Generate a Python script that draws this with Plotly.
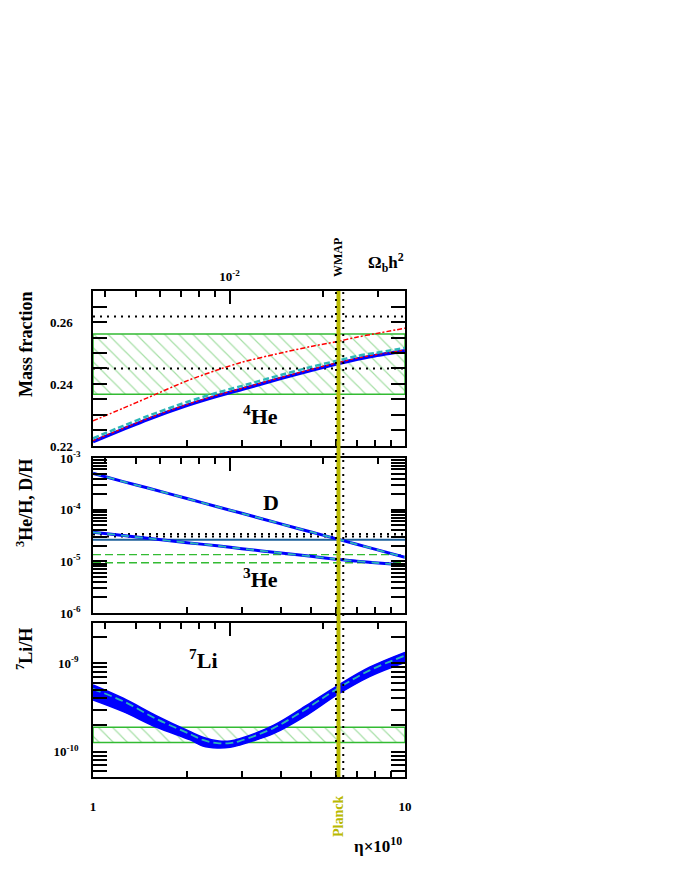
import math
import plotly.graph_objects as go

# ---------------- data ----------------
eta = [1, 1.25, 1.5, 2, 2.5, 3, 4, 5, 6, 7, 8, 10]

# 4He mass fraction
yp_blue = [0.2214, 0.2254, 0.2286, 0.2331, 0.2361, 0.2383, 0.2418, 0.2444, 0.2464, 0.2480, 0.2491, 0.2507]
yp_red_low = [0.2217, 0.2257, 0.2289, 0.2334, 0.2364, 0.2386, 0.2421, 0.2447, 0.2467, 0.2483, 0.2494, 0.2510]
yp_cyan = [0.2225, 0.2265, 0.2297, 0.2342, 0.2372, 0.2394, 0.2429, 0.2455, 0.2474, 0.2490, 0.2500, 0.2516]
yp_red_high = [0.2281, 0.2322, 0.2356, 0.2410, 0.2445, 0.2470, 0.2500, 0.2521, 0.2536, 0.2551, 0.2562, 0.2580]
yp_obs_band = [0.2367, 0.2561]
yp_dotted = [0.2450, 0.2618]

# D/H and 3He/H
dh = [5.05e-4, 3.49e-4, 2.62e-4, 1.64e-4, 1.14e-4, 8.5e-5, 5.3e-5, 3.7e-5, 2.75e-5, 2.14e-5, 1.72e-5, 1.20e-5]
he3h = [3.65e-5, 3.15e-5, 2.79e-5, 2.30e-5, 2.0e-5, 1.76e-5, 1.45e-5, 1.25e-5, 1.10e-5, 1.01e-5, 9.4e-6, 8.5e-6]
dh_dotted = [3.38e-5, 3.03e-5]
dh_solid = [2.62e-5]
he3_dashed = [1.35e-5, 9.4e-6]

# 7Li/H
eta_li = [1, 1.25, 1.6, 2.05, 2.25, 2.5, 2.75, 2.95, 3.8, 4.85, 6.05, 7.7, 10]
li_hi = [5.69e-10, 4.02e-10, 2.54e-10, 1.68e-10, 1.46e-10, 1.33e-10, 1.32e-10, 1.40e-10,
         2.00e-10, 3.37e-10, 5.53e-10, 9.02e-10, 1.33e-9]
li_lo = [3.85e-10, 2.84e-10, 1.89e-10, 1.36e-10, 1.16e-10, 1.10e-10, 1.12e-10, 1.19e-10,
         1.61e-10, 2.60e-10, 4.39e-10, 7.06e-10, 1.02e-9]
li_cyan = [5.13e-10, 3.72e-10, 2.34e-10, 1.58e-10, 1.36e-10, 1.25e-10, 1.25e-10, 1.32e-10,
           1.86e-10, 3.09e-10, 5.13e-10, 8.32e-10, 1.22e-9]
li_obs_band = [1.27e-10, 1.89e-10]

# CMB determinations of eta
planck_band = [6.03, 6.21]
wmap_lines = [6.01, 6.34]

# axis ticks
eta_major = [1, 10]
eta_major_text = ["1", "10"]
eta_minor = [2, 3, 4, 5, 6, 7, 8, 9]
ETA_PER_OMEGA = 273.9
omega_major = [0.01]
omega_major_text = ["10<sup>-2</sup>"]
omega_minor = [0.004, 0.005, 0.006, 0.007, 0.008, 0.009, 0.02, 0.03]
yp_major = [0.22, 0.24, 0.26]
yp_major_text = ["0.22", "0.24", "0.26"]
yp_minor = [0.225, 0.23, 0.235, 0.245, 0.25, 0.255, 0.265]
mid_major = [1e-6, 1e-5, 1e-4, 1e-3]
mid_major_text = ["10<sup>-6</sup>", "10<sup>-5</sup>", "10<sup>-4</sup>", "10<sup>-3</sup>"]
li_major = [1e-10, 1e-9]
li_major_text = ["10<sup>-10</sup>", "10<sup>-9</sup>"]

# ---------------- style ----------------
FONT = "Liberation Serif"
BLUE = "#0000ff"
CYAN = "#2cb5b8"
RED = "#ff0000"
GREEN = "#33bb33"
HATCH = "#4fbf4f"
OLIVE = "#b9b900"
STEEL = "#1d5f9a"
DOTS = "2px,5px"

fig = go.Figure()


def band(xs, lo, hi, xa, ya):
    fig.add_trace(go.Scatter(
        x=[xs[0], xs[-1], xs[-1], xs[0], xs[0]], y=[lo, lo, hi, hi, lo],
        xaxis=xa, yaxis=ya, mode="lines", fill="toself",
        fillcolor="rgba(0,0,0,0)",
        fillpattern=dict(shape="\\", fgcolor=HATCH, bgcolor="rgba(0,0,0,0)",
                         size=10, solidity=0.12, fillmode="overlay"),
        line=dict(color=GREEN, width=1.5), hoverinfo="skip", showlegend=False))


def hline(xs, yv, xa, ya, color, dash, width):
    fig.add_trace(go.Scatter(x=[xs[0], xs[-1]], y=[yv, yv], xaxis=xa, yaxis=ya,
                             mode="lines", line=dict(color=color, dash=dash, width=width),
                             hoverinfo="skip", showlegend=False))


def curve(xs, ys, xa, ya, color, width, dash="solid"):
    fig.add_trace(go.Scatter(x=xs, y=ys, xaxis=xa, yaxis=ya, mode="lines",
                             line=dict(color=color, width=width, dash=dash, shape="spline", smoothing=0.8),
                             hoverinfo="skip", showlegend=False))


# ---- top panel: 4He ----
band(eta, yp_obs_band[0], yp_obs_band[1], "x", "y")
for v in yp_dotted:
    hline(eta, v, "x", "y", "black", DOTS, 2)
curve(eta, yp_red_high, "x", "y", RED, 1.5, "5px,2px,2px,2px")
curve(eta, yp_blue, "x", "y", BLUE, 3.5)
curve(eta, yp_red_low, "x", "y", RED, 1.2, "3px,2px")
curve(eta, yp_cyan, "x", "y", CYAN, 2.5, "6px,3px")

# ---- middle panel: D and 3He ----
for v in dh_dotted:
    hline(eta, v, "x2", "y2", "black", DOTS, 2)
hline(eta, dh_solid[0], "x2", "y2", STEEL, "solid", 1.8)
for v in he3_dashed:
    hline(eta, v, "x2", "y2", GREEN, "8px,4px", 1.3)
curve(eta, dh, "x2", "y2", BLUE, 3)
curve(eta, dh, "x2", "y2", CYAN, 1.8, "8px,6px")
curve(eta, he3h, "x2", "y2", BLUE, 3)
curve(eta, he3h, "x2", "y2", CYAN, 1.8, "8px,6px")

# ---- bottom panel: 7Li ----
band(eta_li, li_obs_band[0], li_obs_band[1], "x3", "y3")
fig.add_trace(go.Scatter(x=eta_li, y=li_lo, xaxis="x3", yaxis="y3", mode="lines",
                         line=dict(color=BLUE, width=1.5, shape="spline", smoothing=1.0),
                         hoverinfo="skip", showlegend=False))
fig.add_trace(go.Scatter(x=eta_li, y=li_hi, xaxis="x3", yaxis="y3", mode="lines",
                         fill="tonexty", fillcolor=BLUE,
                         line=dict(color=BLUE, width=1.5, shape="spline", smoothing=1.0),
                         hoverinfo="skip", showlegend=False))
fig.add_trace(go.Scatter(x=eta_li, y=li_cyan, xaxis="x3", yaxis="y3", mode="lines",
                         line=dict(color=CYAN, width=1.8, dash="8px,4px", shape="spline", smoothing=1.0),
                         hoverinfo="skip", showlegend=False))

# invisible traces that carry the Omega_b h^2 top axes
for xa, ya, yv in (("x4", "y", yp_blue[0]), ("x5", "y2", dh[0]), ("x6", "y3", li_hi[0])):
    fig.add_trace(go.Scatter(x=[eta[0] / ETA_PER_OMEGA], y=[yv], xaxis=xa, yaxis=ya,
                             mode="markers", marker=dict(opacity=0), hoverinfo="skip",
                             showlegend=False))

# ---------------- axes ----------------
tickfont = dict(family=FONT, size=13, color="black", weight="bold")
D_TOP = [0.6811, 1.0]
D_MID = [0.3374, 0.6564]
D_BOT = [0.0, 0.3169]


def eta_axis(anchor, labels):
    return dict(type="log", range=[math.log10(eta[0]), math.log10(eta[-1])], domain=[0, 1],
                anchor=anchor, showline=True, linecolor="black", linewidth=1.5, mirror=True,
                ticks="inside", tickmode="array", tickvals=eta_major, ticktext=eta_major_text,
                ticklen=12, tickwidth=1.5, tickcolor="black",
                minor=dict(ticks="inside", tickmode="array", tickvals=eta_minor, ticklen=6,
                           tickwidth=1.5, tickcolor="black", showgrid=False),
                showgrid=False, zeroline=False, showticklabels=labels, tickfont=tickfont,
                ticklabelstandoff=17, automargin=False)


def omega_axis(overlay, anchor, labels):
    return dict(type="log", overlaying=overlay, anchor=anchor, side="top",
                range=[math.log10(eta[0] / ETA_PER_OMEGA), math.log10(eta[-1] / ETA_PER_OMEGA)],
                ticks="inside", tickmode="array", tickvals=omega_major, ticktext=omega_major_text,
                ticklen=13, tickwidth=1.5, tickcolor="black",
                minor=dict(ticks="inside", tickmode="array", tickvals=omega_minor, ticklen=6,
                           tickwidth=1.5, tickcolor="black", showgrid=False),
                showgrid=False, zeroline=False, showline=False, showticklabels=labels,
                tickfont=tickfont, ticklabelstandoff=6, automargin=False)


def log_minor(decades):
    return [k * 10.0 ** d for d in decades for k in range(2, 10)]


def y_common():
    return dict(ticks="inside", ticklen=14, tickwidth=1.5, tickcolor="black",
                showline=True, linecolor="black", linewidth=1.5, mirror="allticks",
                showgrid=False, zeroline=False, tickfont=tickfont, automargin=False,
                tickmode="array")


def y_minor(vals):
    return dict(ticks="inside", tickmode="array", tickvals=vals, ticklen=7,
                tickwidth=1.5, tickcolor="black", showgrid=False)


layout_axes = dict(
    xaxis=eta_axis("y", False),
    xaxis2=eta_axis("y2", False),
    xaxis3=eta_axis("y3", True),
    xaxis4=omega_axis("x", "y", True),
    xaxis5=omega_axis("x2", "y2", False),
    xaxis6=omega_axis("x3", "y3", False),
    yaxis=dict(domain=D_TOP, anchor="x", range=[0.22, 0.27],
               tickvals=yp_major, ticktext=yp_major_text, minor=y_minor(yp_minor),
               ticklabelstandoff=16, **y_common()),
    yaxis2=dict(domain=D_MID, anchor="x2", type="log", range=[-6, -3],
                tickvals=mid_major, ticktext=mid_major_text,
                minor=y_minor(log_minor([-6, -5, -4])), ticklabelstandoff=8, **y_common()),
    yaxis3=dict(domain=D_BOT, anchor="x3", type="log", range=[-10.286, -8.544],
                tickvals=li_major, ticktext=li_major_text,
                minor=y_minor(log_minor([-11, -10, -9])), ticklabelstandoff=10, **y_common()),
)

# ---------------- vertical CMB bands (span all panels) ----------------
shapes = [dict(type="rect", xref="x", yref="paper", x0=planck_band[0], x1=planck_band[1],
               y0=0, y1=1, fillcolor=OLIVE, line=dict(width=0), layer="above")]
for xv in wmap_lines:
    shapes.append(dict(type="line", xref="x", yref="paper", x0=xv, x1=xv, y0=0, y1=1,
                       line=dict(color="black", width=2, dash=DOTS), layer="above"))

# ---------------- text ----------------
L, R_, T, B = 93, 405, 291, 777


def px(xp):
    return (xp - L) / (R_ - L)


def py(yp):
    return (B - yp) / (B - T)


def txt(s, xp, yp, size, angle=0, color="black"):
    return dict(text=s, x=px(xp), y=py(yp), xref="paper", yref="paper", showarrow=False,
                xanchor="center", yanchor="middle", textangle=angle,
                font=dict(family=FONT, size=size, color=color, weight="bold"))


annotations = [
    txt("Mass fraction", 26, 345, 18, -90),
    txt("<sup>3</sup>He/H, D/H", 24, 503, 18, -90),
    txt("<sup>7</sup>Li/H", 24, 649, 18, -90),
    txt("<sup>4</sup>He", 260, 415, 22),
    txt("D", 271, 502, 22),
    txt("<sup>3</sup>He", 260, 578, 22),
    txt("<sup>7</sup>Li", 203, 659, 22),
    txt("WMAP", 338, 258, 12, -90),
    txt("Ω<sub>b</sub>h<sup>2</sup>", 386, 262, 17),
    txt("Planck", 338, 817, 14, -90, OLIVE),
    txt("η×10<sup>10</sup>", 378, 845, 17),
]

fig.update_layout(
    width=674, height=872,
    margin=dict(l=L, r=674 - R_, t=T, b=872 - B, pad=0, autoexpand=False),
    paper_bgcolor="white", plot_bgcolor="white",
    showlegend=False, shapes=shapes, annotations=annotations,
    **layout_axes,
)

fig.write_html("out.html", config={"displayModeBar": False},
               post_script="document.body.style.margin='0';document.body.style.padding='0';")
